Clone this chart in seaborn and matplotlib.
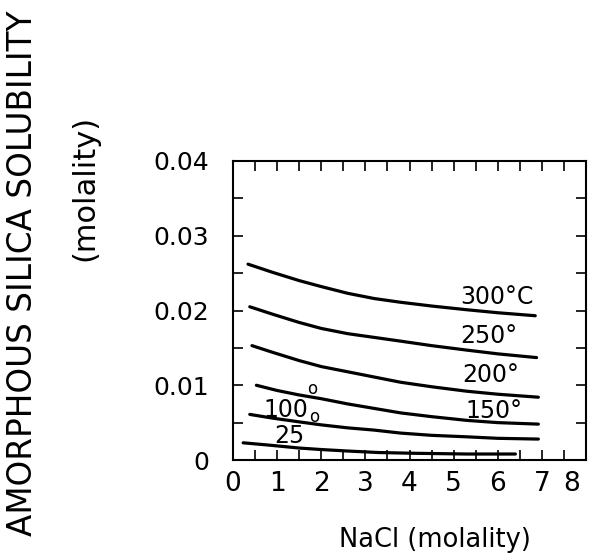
import matplotlib
matplotlib.use("Agg")
import matplotlib.pyplot as plt
import matplotlib.transforms as mtransforms
import seaborn as sns
import pandas as pd
import numpy as np

# Amorphous silica solubility vs. NaCl molality, one curve per temperature (deg C)
temps = [25, 100, 150, 200, 250, 300]

nacl_25 = [0.23, 0.8, 1.5, 2.0, 2.6, 3.3, 4.1, 5.3, 6.4]
sio2_25 = [0.0023, 0.0020, 0.0016, 0.0014, 0.0012, 0.0010, 0.0009, 0.0008, 0.0008]

nacl_100 = [0.38, 0.9, 1.5, 2.0, 2.6, 3.2, 3.8, 4.5, 5.3, 6.0, 6.92]
sio2_100 = [0.0061, 0.0056, 0.0051, 0.0047, 0.0043, 0.0040, 0.0036, 0.0033, 0.0031, 0.0029, 0.0028]

nacl_150 = [0.53, 1.0, 1.5, 2.0, 2.6, 3.2, 3.8, 4.5, 5.3, 6.0, 6.92]
sio2_150 = [0.0100, 0.0093, 0.0087, 0.0082, 0.0075, 0.0069, 0.0063, 0.0058, 0.0053, 0.0050, 0.0048]

nacl_200 = [0.43, 0.9, 1.5, 2.0, 2.6, 3.2, 3.8, 4.5, 5.3, 6.0, 6.92]
sio2_200 = [0.0153, 0.0144, 0.0133, 0.0125, 0.0118, 0.0111, 0.0104, 0.0098, 0.0092, 0.0088, 0.0084]

nacl_250 = [0.38, 0.9, 1.5, 2.0, 2.6, 3.2, 3.8, 4.5, 5.3, 6.0, 6.88]
sio2_250 = [0.0205, 0.0195, 0.0184, 0.0176, 0.0169, 0.0164, 0.0159, 0.0153, 0.0147, 0.0142, 0.0137]

nacl_300 = [0.34, 0.9, 1.5, 2.0, 2.6, 3.2, 3.8, 4.5, 5.3, 6.0, 6.85]
sio2_300 = [0.0262, 0.0251, 0.0240, 0.0232, 0.0223, 0.0216, 0.0211, 0.0206, 0.0201, 0.0197, 0.0193]

x_ticks = [0, 1, 2, 3, 4, 5, 6, 7, 8]
x_tick_labels = ["0", "1", "2", "3", "4", "5", "6", "7", "8"]
y_ticks = [0, 0.01, 0.02, 0.03, 0.04]
y_tick_labels = ["0", "0.01", "0.02", "0.03", "0.04"]

curve_labels = ["25", "100", "150\u00b0", "200\u00b0", "250\u00b0", "300\u00b0C"]
label_x = [0.93, 0.68, 5.26, 5.19, 5.14, 5.14]
label_y = [0.00227, 0.00577, 0.0056, 0.0104, 0.0156, 0.0209]
# detached degree marks for the two lowest curves
degree_x = [1.83, 1.80]
degree_y = [0.0058, 0.0095]

curves = {25: (nacl_25, sio2_25), 100: (nacl_100, sio2_100),
          150: (nacl_150, sio2_150), 200: (nacl_200, sio2_200),
          250: (nacl_250, sio2_250), 300: (nacl_300, sio2_300)}
df = pd.concat(
    [pd.DataFrame({"nacl": xs, "sio2": ys, "temp": t}) for t, (xs, ys) in curves.items()],
    ignore_index=True,
)

sns.set_theme(style="white")
plt.rcParams["font.family"] = ["DejaVu Sans"]

W, H = 591, 559
fig = plt.figure(figsize=(W / 100, H / 100), dpi=100)
ax = fig.add_axes([233 / W, (H - 460) / H, (586 - 233) / W, (460 - 161) / H])

sns.lineplot(data=df, x="nacl", y="sio2", hue="temp",
             palette={t: "black" for t in temps}, estimator=None,
             sort=False, linewidth=2.3, legend=False, ax=ax,
             solid_joinstyle="round", solid_capstyle="round")

ax.set_xlim(0, 8)
ax.set_ylim(0, 0.04)
ax.set_xticks(x_ticks)
ax.set_xticklabels(x_tick_labels)
ax.set_yticks(y_ticks)
ax.set_yticklabels(y_tick_labels)
ax.set_xticks(np.arange(0.5, 8, 1.0), minor=True)
ax.set_yticks(np.arange(0.005, 0.04, 0.01), minor=True)
ax.set_xlabel("")
ax.set_ylabel("")

for side in ["top", "bottom", "left", "right"]:
    ax.spines[side].set_visible(True)
    ax.spines[side].set_color("black")
    ax.spines[side].set_linewidth(1.5)

ax.tick_params(which="both", direction="in", length=7, width=1.2, color="black",
               top=True, right=True, bottom=True, left=True)
ax.tick_params(axis="x", which="major", labelsize=19, pad=8)
ax.tick_params(axis="y", which="major", labelsize=18, pad=17)
for lab in ax.get_xticklabels() + ax.get_yticklabels():
    lab.set_color("black")

# pull the last x label inside the figure edge
last = ax.get_xticklabels()[-1]
last.set_transform(last.get_transform() +
                   mtransforms.ScaledTranslation(-14 / 100, 0, fig.dpi_scale_trans))

for txt, lx, ly in zip(curve_labels, label_x, label_y):
    ax.text(lx, ly, txt, fontsize=17, ha="left", va="baseline", color="black")
for dx, dy in zip(degree_x, degree_y):
    ax.text(dx, dy, "o", fontsize=12, ha="center", va="center", color="black")

fig.text(23 / W, (H - 273) / H, "AMORPHOUS SILICA SOLUBILITY", rotation=90,
         ha="center", va="center", fontsize=23.5, color="black")
fig.text(85 / W, (H - 188) / H, "(molality)", rotation=90,
         ha="center", va="center", fontsize=22, color="black")
fig.text(435 / W, (H - 540) / H, "NaCl (molality)",
         ha="center", va="center", fontsize=18.5, color="black")

fig.savefig("out.png", dpi=100, facecolor="white")
